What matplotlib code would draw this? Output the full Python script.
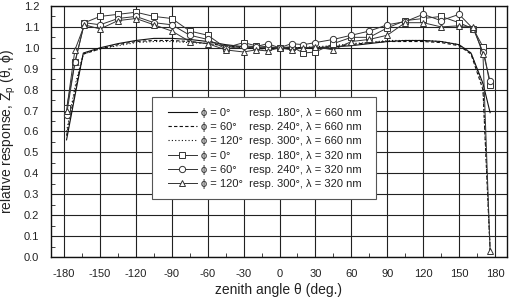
import matplotlib
matplotlib.use("Agg")
import matplotlib.pyplot as plt
from matplotlib.ticker import MultipleLocator, FormatStrFormatter
from matplotlib.patches import Rectangle

plt.rcParams['font.family'] = ['Liberation Sans', 'DejaVu Sans']
plt.rcParams['mathtext.fontset'] = 'custom'
plt.rcParams['mathtext.rm'] = 'Liberation Sans'
plt.rcParams['mathtext.it'] = 'Liberation Sans'
plt.rcParams['axes.unicode_minus'] = False

# 660 nm (lines only)
theta_660 = [-178, -170, -164, -150, -135, -120, -105, -90, -75, -60, -45, -30, -15, 0,
             15, 30, 45, 60, 75, 90, 105, 120, 135, 150, 160, 170, 176]
solid_660 = [0.56, 0.80, 0.975, 1.00, 1.02, 1.035, 1.045, 1.045, 1.04, 1.03, 1.015, 1.005, 1.0, 1.0,
             1.0, 1.0, 1.005, 1.01, 1.02, 1.03, 1.035, 1.035, 1.03, 1.015, 0.975, 0.83, 0.69]
dash_660 = [0.58, 0.82, 0.97, 0.995, 1.015, 1.03, 1.035, 1.035, 1.03, 1.02, 1.01, 1.0, 0.995, 1.0,
            1.0, 1.0, 1.005, 1.015, 1.025, 1.03, 1.03, 1.03, 1.025, 1.01, 0.97, 0.80, 0.03]
dot_660 = [0.60, 0.84, 0.97, 0.995, 1.01, 1.025, 1.03, 1.03, 1.025, 1.02, 1.01, 1.0, 0.995, 1.0,
           1.0, 1.005, 1.01, 1.02, 1.025, 1.035, 1.035, 1.035, 1.03, 1.015, 0.975, 0.82, 0.03]

# 320 nm (markers)
theta_320 = [-178, -171, -163, -150, -135, -120, -105, -90, -75, -60, -45, -30, -20, -10, 0,
             10, 20, 30, 45, 60, 75, 90, 105, 120, 135, 150, 162, 170, 176]
sq_320 = [0.71, 0.93, 1.12, 1.15, 1.16, 1.17, 1.15, 1.14, 1.08, 1.06, 1.00, 1.025, 1.01, 1.005, 1.0,
          1.005, 0.975, 0.98, 1.02, 1.05, 1.05, 1.095, 1.13, 1.14, 1.15, 1.12, 1.09, 1.005, 0.82]
ci_320 = [0.68, 0.93, 1.12, 1.11, 1.14, 1.15, 1.12, 1.11, 1.06, 1.04, 0.995, 1.01, 1.005, 1.02, 1.0,
          1.02, 1.015, 1.025, 1.04, 1.06, 1.08, 1.11, 1.125, 1.16, 1.13, 1.16, 1.09, 0.98, 0.84]
tr_320 = [0.70, 0.99, 1.11, 1.09, 1.13, 1.14, 1.11, 1.08, 1.03, 1.02, 0.99, 0.98, 0.99, 0.985, 1.0,
          0.99, 1.0, 1.005, 0.99, 1.03, 1.04, 1.06, 1.12, 1.12, 1.10, 1.105, 1.10, 0.97, 0.03]

labels = ["\u03d5 = 0°      resp. 180°, \u03bb = 660 nm",
          "\u03d5 = 60°    resp. 240°, \u03bb = 660 nm",
          "\u03d5 = 120°  resp. 300°, \u03bb = 660 nm",
          "\u03d5 = 0°      resp. 180°, \u03bb = 320 nm",
          "\u03d5 = 60°    resp. 240°, \u03bb = 320 nm",
          "\u03d5 = 120°  resp. 300°, \u03bb = 320 nm"]

fig = plt.figure(figsize=(5.12, 2.98), dpi=100)
ax = fig.add_axes([0.0996, 0.1376, 0.8904, 0.8424])

lw = 0.8
k = '#111111'
ax.plot(theta_660, solid_660, '-', color=k, lw=lw, label=labels[0])
ax.plot(theta_660, dash_660, '--', color=k, lw=lw, dashes=(3, 2), label=labels[1])
ax.plot(theta_660, dot_660, ':', color=k, lw=lw, dashes=(1, 2), label=labels[2])
ms = 4.5
mk = dict(color='#333333', lw=0.7, ms=ms, mfc='white', mec='#333333', mew=0.7)
ax.plot(theta_320, sq_320, '-s', label=labels[3], **mk)
ax.plot(theta_320, ci_320, '-o', label=labels[4], **mk)
ax.plot(theta_320, tr_320, '-^', label=labels[5], **mk)

ax.set_xlim(-191, 190)
ax.set_ylim(0, 1.2)
ax.xaxis.set_major_locator(MultipleLocator(30))
ax.xaxis.set_minor_locator(MultipleLocator(15))
ax.yaxis.set_major_locator(MultipleLocator(0.1))
ax.yaxis.set_minor_locator(MultipleLocator(0.05))
ax.yaxis.set_major_formatter(FormatStrFormatter('%.1f'))
ax.grid(True, which='major', color='#222222', lw=0.8)
ax.set_axisbelow(True)
ax.tick_params(which='both', direction='in', labelsize=8, labelcolor='#222222', color='#222222')
ax.tick_params(which='major', length=0, pad=8.5)
ax.tick_params(which='minor', length=3)
for s in ax.spines.values():
    s.set_linewidth(1.0)
    s.set_color('#111111')

ax.set_xlabel("zenith angle \u03b8 (deg.)", fontsize=10, color='#222222', labelpad=3)
ax.set_ylabel("relative response, Z$_\\mathregular{p}$ (\u03b8, \u03d5)", fontsize=10,
              color='#222222', labelpad=4)

# legend frame
rect = Rectangle((0.2215, 0.231), 0.4912, 0.4065, transform=ax.transAxes,
                 facecolor='white', edgecolor='#555555', lw=0.8, zorder=4)
ax.add_patch(rect)
leg = ax.legend(loc='upper left', bbox_to_anchor=(0.2566, 0.594), fontsize=8, frameon=False,
                handlelength=2.6, handletextpad=0.35, labelspacing=0.38, borderpad=0,
                borderaxespad=0)
leg.set_zorder(5)
for t in leg.get_texts():
    t.set_color('#222222')

fig.savefig('out.png', dpi=100)
